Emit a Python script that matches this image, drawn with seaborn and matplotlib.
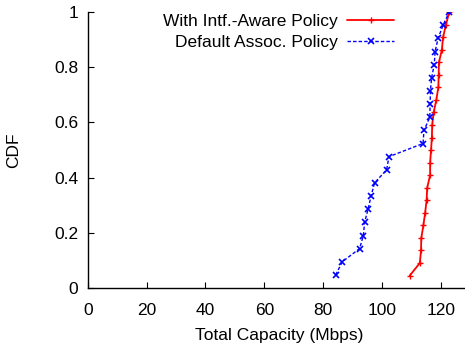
import matplotlib
matplotlib.use('Agg')
import matplotlib.pyplot as plt
import seaborn as sns
import pandas as pd

# CDF points
aware_cap = [109.5, 112.9, 113.3, 113.4, 114.1, 114.7, 115.2, 115.4, 116.4, 116.4, 116.7,
             117.0, 117.1, 117.6, 118.5, 119.2, 119.3, 119.4, 120.4, 120.8, 121.8, 122.9]
aware_cdf = [i / 22 for i in range(1, 23)]

default_cap = [84.3, 86.5, 92.4, 93.7, 94.1, 95.3, 96.3, 97.5, 101.6, 102.4, 114.0,
               114.3, 116.3, 116.4, 116.5, 116.9, 117.8, 118.1, 119.1, 120.8, 122.9]
default_cdf = [i / 21 for i in range(1, 22)]

df_aware = pd.DataFrame({'cap': aware_cap, 'cdf': aware_cdf})
df_default = pd.DataFrame({'cap': default_cap, 'cdf': default_cdf})

sns.set_style('ticks')
plt.rcParams['font.family'] = ['Liberation Sans', 'DejaVu Sans']
plt.rcParams['xtick.direction'] = 'in'
plt.rcParams['ytick.direction'] = 'in'
plt.rcParams['text.color'] = 'black'
plt.rcParams['axes.labelcolor'] = 'black'
plt.rcParams['xtick.color'] = 'black'
plt.rcParams['ytick.color'] = 'black'

fs = 12.5
fig = plt.figure(figsize=(4.65, 3.45), dpi=100)
ax = fig.add_axes([0.189, 0.165, 0.822, 0.8])

sns.lineplot(data=df_aware, x='cap', y='cdf', sort=False, estimator=None, ax=ax,
             color='#ff0000', linewidth=1.3, marker='+', markersize=5,
             markeredgewidth=1, markeredgecolor='#ff0000',
             label='With Intf.-Aware Policy')
sns.lineplot(data=df_default, x='cap', y='cdf', sort=False, estimator=None, ax=ax,
             color='#0000ff', linewidth=1.0, linestyle=(0, (2.5, 1.5)), marker='x', markersize=4,
             markeredgewidth=1.2, markeredgecolor='#0000ff',
             label='Default Assoc. Policy')

ax.set_xlim(0, 130)
ax.set_ylim(0, 1)
ax.set_xticks([0, 20, 40, 60, 80, 100, 120])
ax.set_yticks([0, 0.2, 0.4, 0.6, 0.8, 1])
ax.set_yticklabels(['0', '0.2', '0.4', '0.6', '0.8', '1'])
ax.tick_params(labelsize=fs, length=4, width=0.8)
ax.tick_params(axis='x', pad=11)
ax.tick_params(axis='y', pad=7)
ax.set_xlabel('Total Capacity (Mbps)', fontsize=fs, labelpad=7)
ax.set_ylabel('CDF', fontsize=fs, labelpad=24)
sns.despine(ax=ax, top=True, right=True)
for s in ['left', 'bottom']:
    ax.spines[s].set_linewidth(1.0)
    ax.spines[s].set_color('black')

ax.legend(loc='upper left', bbox_to_anchor=(0.169, 1.03), frameon=False, markerfirst=False,
          fontsize=fs, handlelength=2.7, handletextpad=0.55, labelspacing=0.3,
          borderaxespad=0.2)

fig.savefig('out.png', dpi=100)
